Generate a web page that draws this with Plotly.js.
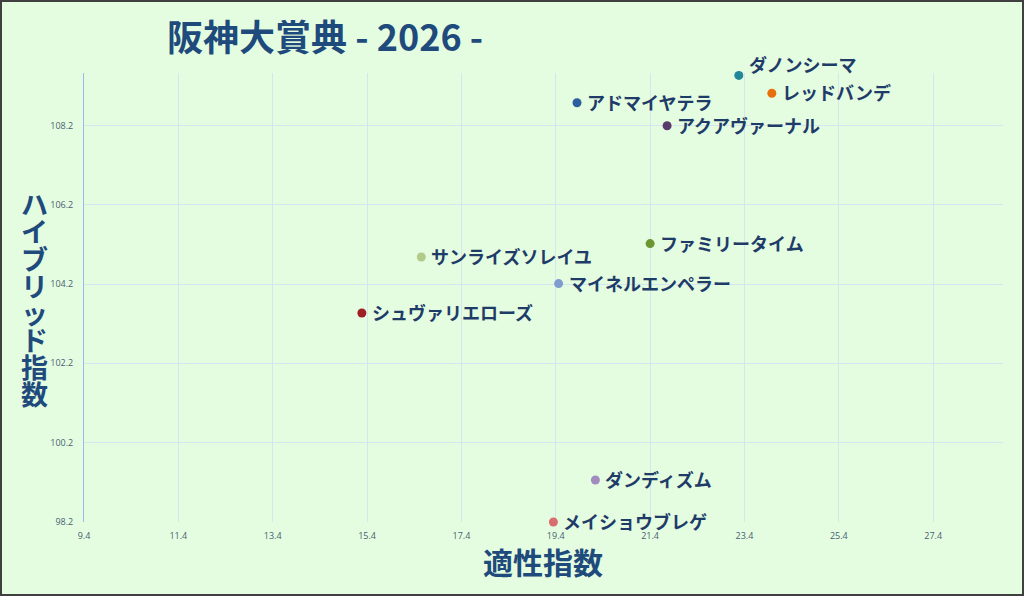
<!DOCTYPE html>
<html>
<head>
<meta charset="utf-8">
<script src="https://cdn.plot.ly/plotly-3.0.1.min.js"></script>
<style>html,body{margin:0;padding:0;background:#e4fde1;}#chart{width:1024px;height:596px;}</style>
</head>
<body>
<div id="chart"></div>
<script>
const horses = ["ダノンシーマ","レッドバンデ","アドマイヤテラ","アクアヴァーナル","ファミリータイム","サンライズソレイユ","マイネルエンペラー","シュヴァリエローズ","ダンディズム","メイショウブレゲ"];
const aptitude = [23.28, 23.98, 19.85, 21.76, 21.40, 16.55, 19.46, 15.29, 20.24, 19.35];
const hybrid = [109.46, 109.01, 108.77, 108.19, 105.22, 104.88, 104.21, 103.47, 99.26, 98.20];
const colors = ["#23879a","#e8700c","#2d5e9e","#583a6c","#6b9630","#b2cb88","#7e9ccf","#a01f22","#a18bbf","#d96e6f"];
const xTicks = [9.4, 11.4, 13.4, 15.4, 17.4, 19.4, 21.4, 23.4, 25.4, 27.4];
const yTicks = [98.2, 100.2, 102.2, 104.2, 106.2, 108.2];
const titleText = "阪神大賞典 - 2026 -";
const xTitle = "適性指数";
const yTitle = "ハイブリッド指数";

const trace = {
  type: "scatter",
  mode: "markers",
  x: aptitude,
  y: hybrid,
  marker: {size: 9, color: colors, line: {width: 0}},
  cliponaxis: false,
  hoverinfo: "none"
};

const L = 84, R = 21, T = 73, B = 74;
const W = 1024 - L - R, H = 596 - T - B;
const titleFont = {family: "Noto Sans CJK JP", color: "#1f4a7c", weight: 700};

const annotations = [
  {xref: "paper", yref: "paper", x: (165 - L) / W, y: 1 + (T - 35) / H, xanchor: "left", yanchor: "middle",
   text: titleText, showarrow: false, font: Object.assign({size: 36}, titleFont)},
  {xref: "paper", yref: "paper", x: (543 - L) / W, y: -(561 - T - H) / H, xanchor: "center", yanchor: "middle",
   text: xTitle, showarrow: false, font: Object.assign({size: 30}, titleFont)}
];
// vertical (stacked) y-axis title, one upright character per row
yTitle.split("").forEach((ch, i) => {
  const py = 204 + i * 27;
  annotations.push({xref: "paper", yref: "paper", x: (34 - L) / W, y: 1 - (py - T) / H,
    xanchor: "center", yanchor: "middle", text: ch, showarrow: false,
    font: Object.assign({size: 27}, titleFont)});
});
// point labels
horses.forEach((h, i) => {
  annotations.push({xref: "x", yref: "y", x: aptitude[i], y: hybrid[i],
    xanchor: "left", yanchor: "middle", xshift: 8, yshift: i === 0 ? 11 : 1,
    text: h, showarrow: false,
    font: {family: "Noto Sans CJK JP", size: 18, color: "#1f3b68", weight: 700}});
});

const layout = {
  width: 1024, height: 596,
  margin: {l: L, r: R, t: T, b: B, pad: 0},
  paper_bgcolor: "#e4fde1",
  plot_bgcolor: "#e4fde1",
  showlegend: false,
  xaxis: {
    range: [9.4, 28.88],
    tickvals: xTicks,
    ticktext: xTicks.map(v => v.toFixed(1)),
    showgrid: true, gridcolor: "#d4e6ef", gridwidth: 1,
    zeroline: false, showline: false,
    tickfont: {family: "Open Sans", size: 9, color: "#4a5d72"},
    ticks: "", ticklabelstandoff: 7
  },
  yaxis: {
    range: [98.2, 109.52],
    tickvals: yTicks,
    ticktext: yTicks.map(v => v.toFixed(1)),
    showgrid: true, gridcolor: "#d4e6ef", gridwidth: 1,
    zeroline: false,
    showline: true, linecolor: "#9cb9e9", linewidth: 1,
    tickfont: {family: "Open Sans", size: 9, color: "#4a5d72"},
    ticks: "", ticklabelstandoff: 8
  },
  annotations: annotations,
  shapes: [
    {type: "rect", xref: "paper", yref: "paper",
     x0: -(L - 1) / W, x1: 1 + (R - 1) / W, y0: -(B - 1) / H, y1: 1 + (T - 1) / H,
     line: {color: "#404040", width: 2}, fillcolor: "rgba(0,0,0,0)", layer: "above"}
  ]
};

Plotly.newPlot("chart", [trace], layout, {displayModeBar: false, staticPlot: true});
</script>
</body>
</html>
